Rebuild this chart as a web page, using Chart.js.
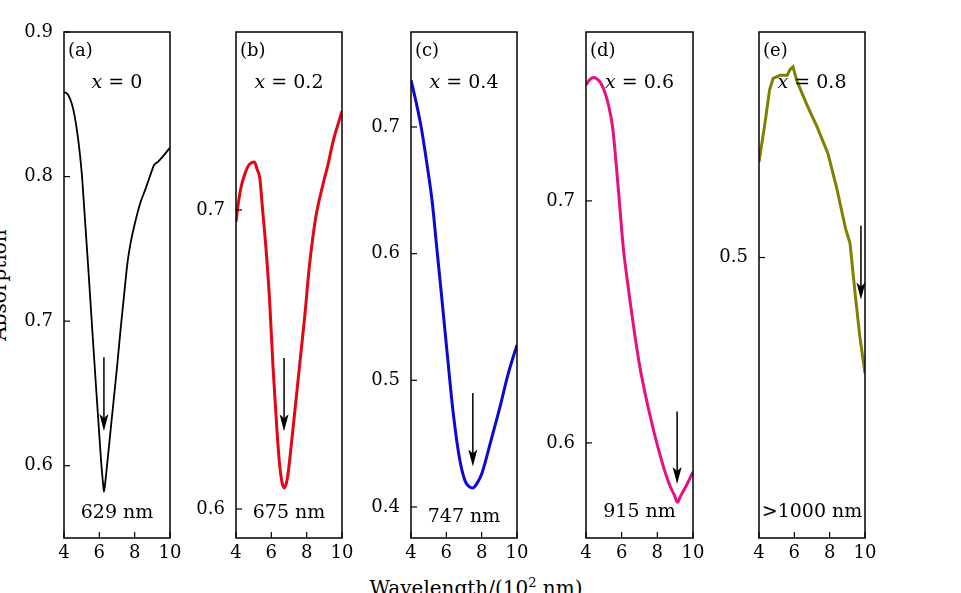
<!DOCTYPE html>
<html><head><meta charset="utf-8">
<script src="https://cdn.jsdelivr.net/npm/chart.js@4"></script>
<style>
html,body{margin:0;padding:0;background:#fff;width:961px;height:593px;overflow:hidden;position:relative;font-family:"DejaVu Serif",serif;}
canvas{position:absolute;top:0;}
#ytitle{position:absolute;left:-1px;top:285px;transform:translate(-50%,-50%) rotate(-90deg);font-size:20px;white-space:nowrap;color:#000;line-height:normal;}
#xtitle{position:absolute;left:476px;top:576px;transform:translateX(-50%);font-size:20px;white-space:nowrap;color:#000;line-height:normal;}
#xtitle sup{font-size:13px;vertical-align:8px;line-height:0;}
</style></head><body>
<div id="ytitle">Absorption</div>
<div id="xtitle">Wavelength/(10<sup>2</sup> nm)</div>
<script>
// ---- data ----
const xTicks = [4, 6, 8, 10];

const wavelengthA = [4.0,4.1,4.2,4.3,4.45,4.6,4.8,5.0,5.2,5.4,5.6,5.8,6.0,6.1,6.2,6.26,6.35,6.45,6.6,6.8,7.0,7.2,7.4,7.6,7.8,8.0,8.3,8.6,8.8,9.0,9.1,9.3,9.6,10];
const absorptionA = [0.858,0.858,0.857,0.855,0.850,0.842,0.826,0.803,0.768,0.732,0.694,0.657,0.621,0.603,0.589,0.582,0.590,0.602,0.620,0.644,0.668,0.694,0.718,0.741,0.756,0.767,0.781,0.791,0.798,0.805,0.808,0.810,0.814,0.820];

const wavelengthB = [4.0,4.15,4.3,4.5,4.7,4.9,5.04,5.2,5.35,5.5,5.7,5.9,6.1,6.3,6.45,6.6,6.74,6.9,7.05,7.3,7.6,7.9,8.15,8.5,8.9,9.2,9.5,10];
const absorptionB = [0.696,0.703,0.708,0.712,0.7148,0.7158,0.716,0.7135,0.7105,0.7005,0.687,0.670,0.647,0.628,0.616,0.609,0.607,0.610,0.617,0.631,0.648,0.665,0.681,0.697,0.708,0.715,0.723,0.733];

const wavelengthC = [4.0,4.3,4.6,4.9,5.2,5.45,5.75,6.05,6.4,6.75,7.05,7.3,7.5,7.75,8.0,8.5,9.0,9.5,10];
const absorptionC = [0.737,0.719,0.698,0.671,0.641,0.606,0.564,0.521,0.473,0.438,0.421,0.416,0.415,0.419,0.426,0.451,0.477,0.505,0.528];

const wavelengthD = [4.0,4.2,4.4,4.6,4.8,5.0,5.25,5.5,5.8,6.1,6.3,6.5,6.75,7.03,7.3,7.6,7.95,8.25,8.5,8.72,8.95,9.13,9.3,9.6,10];
const absorptionD = [0.748,0.750,0.751,0.7505,0.749,0.746,0.740,0.730,0.706,0.680,0.668,0.657,0.644,0.631,0.621,0.611,0.6005,0.5925,0.5865,0.582,0.5785,0.5755,0.578,0.582,0.588];

const wavelengthE = [4.0,4.35,4.6,4.8,5.2,5.6,5.75,5.92,6.15,6.7,7.3,7.9,8.4,8.9,9.15,9.45,9.7,10];
const absorptionE = [0.533,0.547,0.558,0.562,0.563,0.563,0.565,0.566,0.561,0.553,0.545,0.536,0.524,0.510,0.505,0.487,0.473,0.460];

const yTicksA = [0.6, 0.7, 0.8, 0.9];
const yTicksB = [0.6, 0.7];
const yTicksC = [0.4, 0.5, 0.6, 0.7];
const yTicksD = [0.6, 0.7];
const yTicksE = [0.5];

const yMin = [0.55, 0.5903, 0.3755, 0.5607, 0.403];
const yMax = [0.90, 0.7595, 0.775, 0.7698, 0.578];

const panelLabels = ['(a)', '(b)', '(c)', '(d)', '(e)'];
const compositions = ['0', '0.2', '0.4', '0.6', '0.8'];
const peakLabels = ['629 nm', '675 nm', '747 nm', '915 nm', '>1000 nm'];

const arrowX   = [6.26, 6.72, 7.5, 9.11, 9.77];
const arrowTop = [0.675, 0.6505, 0.490, 0.613, 0.511];
const arrowTip = [0.624, 0.626, 0.432, 0.583, 0.4855];

// ---- drawing ----
const FONT = '"DejaVu Serif", serif';
const panels = [
  {w: wavelengthA, v: absorptionA, yt: yTicksA, color: '#000000', bw: 1.8, left: 64, width: 106, peakY: 513},
  {w: wavelengthB, v: absorptionB, yt: yTicksB, color: '#e30613', bw: 3, left: 236, width: 106, peakY: 513},
  {w: wavelengthC, v: absorptionC, yt: yTicksC, color: '#0a0ad2', bw: 3, left: 411, width: 106, peakY: 517},
  {w: wavelengthD, v: absorptionD, yt: yTicksD, color: '#e8107f', bw: 3, left: 586, width: 107, peakY: 512},
  {w: wavelengthE, v: absorptionE, yt: yTicksE, color: '#808000', bw: 3, left: 759, width: 106, peakY: 512}
];

function drawMixed(ctx, parts, cx, cy) {
  let total = 0;
  parts.forEach(p => { ctx.font = p.f; total += ctx.measureText(p.t).width; });
  let x = cx - total / 2;
  ctx.textBaseline = 'middle'; ctx.textAlign = 'left';
  parts.forEach(p => { ctx.font = p.f; ctx.fillText(p.t, x, cy); x += ctx.measureText(p.t).width; });
}

const decor = {
  id: 'decor',
  afterDatasetsDraw(chart, args, opts) {
    const i = opts.index;
    const {ctx, chartArea: a} = chart;
    const x = chart.scales.x, y = chart.scales.y;
    ctx.save();
    ctx.strokeStyle = '#000'; ctx.fillStyle = '#000';
    ctx.lineWidth = 1.5;
    ctx.strokeRect(a.left, a.top, a.right - a.left, a.bottom - a.top);
    ctx.lineWidth = 1.2;
    x.ticks.forEach(t => {
      const px = x.getPixelForValue(t.value);
      ctx.beginPath(); ctx.moveTo(px, a.bottom); ctx.lineTo(px, a.bottom - 6); ctx.stroke();
    });
    y.ticks.forEach(t => {
      const py = y.getPixelForValue(t.value);
      ctx.beginPath(); ctx.moveTo(a.left, py); ctx.lineTo(a.left + 6, py); ctx.stroke();
    });
    // arrow
    const ax = x.getPixelForValue(arrowX[i]);
    const ay0 = y.getPixelForValue(arrowTop[i]);
    const ay1 = y.getPixelForValue(arrowTip[i]);
    ctx.lineWidth = 1.5;
    ctx.beginPath(); ctx.moveTo(ax, ay0); ctx.lineTo(ax, ay1 - 12); ctx.stroke();
    ctx.beginPath();
    ctx.moveTo(ax - 4.5, ay1 - 17); ctx.lineTo(ax, ay1 - 13); ctx.lineTo(ax + 4.5, ay1 - 17); ctx.lineTo(ax, ay1);
    ctx.closePath(); ctx.fill();
    // texts
    const cx = (a.left + a.right) / 2;
    ctx.font = '18px ' + FONT; ctx.textAlign = 'left'; ctx.textBaseline = 'middle';
    ctx.fillText(panelLabels[i], a.left + 4, a.top + 19);
    drawMixed(ctx, [{t: 'x', f: 'italic 19px ' + FONT}, {t: ' = ' + compositions[i], f: '19px ' + FONT}], cx, a.top + 51);
    ctx.font = '19px ' + FONT; ctx.textAlign = 'center';
    ctx.fillText(peakLabels[i], cx, opts.peakY);
    ctx.restore();
  }
};

panels.forEach((p, i) => {
  const c = document.createElement('canvas');
  const cw = 60 + p.width + 20;
  c.width = cw; c.height = 593;
  c.style.left = (p.left - 60) + 'px';
  c.style.width = cw + 'px'; c.style.height = '593px';
  document.body.appendChild(c);
  new Chart(c, {
    type: 'line',
    data: {datasets: [{
      data: p.w.map((xv, k) => ({x: xv, y: p.v[k]})),
      borderColor: p.color, borderWidth: p.bw, pointRadius: 0, fill: false,
      cubicInterpolationMode: i === 4 ? 'default' : 'monotone', tension: 0
    }]},
    options: {
      responsive: false, animation: false, devicePixelRatio: 1,
      layout: {padding: {left: 0, top: 32, right: 20, bottom: 0}},
      plugins: {legend: {display: false}, tooltip: {enabled: false}, decor: {index: i, peakY: p.peakY}},
      scales: {
        x: {
          type: 'linear', min: 4, max: 10,
          afterBuildTicks: s => { s.ticks = xTicks.map(v => ({value: v})); },
          afterFit: s => { s.height = 55; },
          grid: {display: false, drawTicks: false}, border: {display: false},
          ticks: {padding: 5, color: '#000', font: {family: FONT, size: 18}, maxRotation: 0, autoSkip: false, callback: v => String(v)}
        },
        y: {
          type: 'linear', min: yMin[i], max: yMax[i],
          afterBuildTicks: s => { s.ticks = p.yt.map(v => ({value: v})); },
          afterFit: s => { s.width = 60; },
          grid: {display: false, drawTicks: false}, border: {display: false},
          ticks: {padding: 11, color: '#000', font: {family: FONT, size: 18}, autoSkip: false, callback: v => v.toFixed(1)}
        }
      }
    },
    plugins: [decor]
  });
});
</script>
</body></html>
